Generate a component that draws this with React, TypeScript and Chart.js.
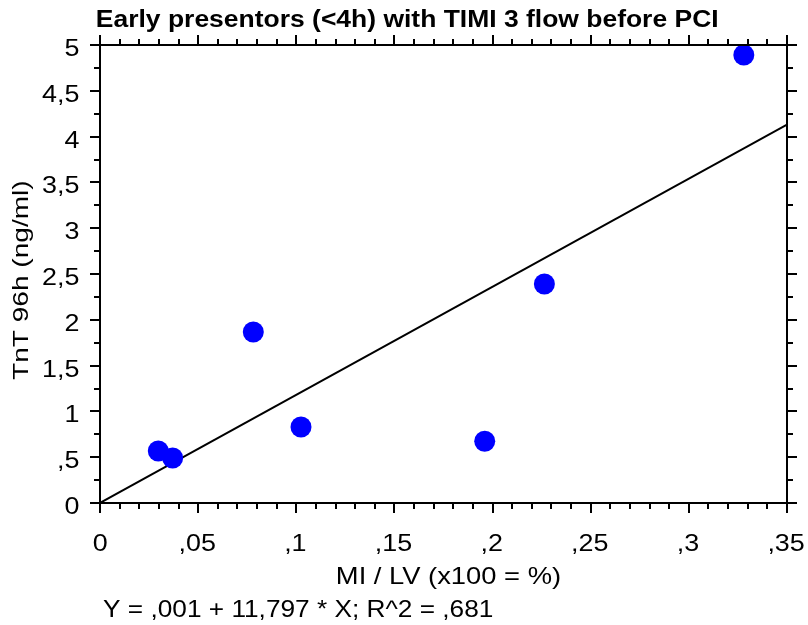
import { useEffect, useRef } from 'react';
import { Chart, registerables } from 'chart.js';

Chart.register(...registerables);

const TITLE = 'Early presentors (<4h) with TIMI 3 flow before PCI';
const X_TITLE = 'MI / LV (x100 = %)';
const Y_TITLE = 'TnT 96h (ng/ml)';
const FOOTER = 'Y = ,001 + 11,797 * X; R^2 = ,681';

// MI / LV (fraction) and TnT 96h (ng/ml)
const miLv = [0.0297, 0.037, 0.0781, 0.1024, 0.196, 0.2264, 0.328];
const tnt = [0.568, 0.491, 1.867, 0.83, 0.674, 2.391, 4.891];

// Linear fit shown below the chart
const fitIntercept = 0.001;
const fitSlope = 11.797;
const fitX = [0, 0.35];

const xTickValues = [0, 0.05, 0.1, 0.15, 0.2, 0.25, 0.3, 0.35];
const xTickLabels = ['0', ',05', ',1', ',15', ',2', ',25', ',3', ',35'];
const xMinorStep = 0.01;
const yTickValues = [0, 0.5, 1, 1.5, 2, 2.5, 3, 3.5, 4, 4.5, 5];
const yTickLabels = ['0', ',5', '1', '1,5', '2', '2,5', '3', '3,5', '4', '4,5', '5'];
const yMinorStep = 0.25;

const FONT = '"Liberation Sans", Arial, sans-serif';
const TICK_STRETCH = 1.12;

function drawText(
  ctx: CanvasRenderingContext2D,
  text: string,
  x: number,
  y: number,
  font: string,
  align: 'left' | 'center' | 'right',
  opts: { stretch?: number; width?: number } = {}
) {
  ctx.save();
  ctx.font = font;
  ctx.textBaseline = 'alphabetic';
  ctx.textAlign = 'left';
  const m = ctx.measureText(text);
  const inkW = m.actualBoundingBoxLeft + m.actualBoundingBoxRight;
  const k = opts.width ? opts.width / inkW : opts.stretch || 1;
  const w = inkW * k;
  let x0 = x;
  if (align === 'center') x0 = x - w / 2;
  else if (align === 'right') x0 = x - w;
  ctx.translate(x0, y);
  ctx.scale(k, 1);
  ctx.fillText(text, m.actualBoundingBoxLeft, 0);
  ctx.restore();
}

const framePlugin = {
  id: 'framePlugin',
  afterDraw(chart: any) {
    const ctx: CanvasRenderingContext2D = chart.ctx;
    const { left, right, top, bottom } = chart.chartArea;
    const xs = chart.scales.x;
    const ys = chart.scales.y;
    ctx.save();
    ctx.strokeStyle = '#000';
    ctx.lineWidth = 2;
    ctx.lineCap = 'butt';
    ctx.beginPath();
    ctx.rect(left, top, right - left, bottom - top);
    ctx.stroke();

    const MAJ = 10;
    const MIN = 6;
    const isMajor = (v: number, arr: number[]) => arr.some((a) => Math.abs(a - v) < 1e-9);
    ctx.beginPath();
    const nx = Math.round((xs.max - xs.min) / xMinorStep);
    for (let i = 0; i <= nx; i++) {
      const v = +(xs.min + i * xMinorStep).toFixed(6);
      const px = Math.round(xs.getPixelForValue(v));
      const len = isMajor(v, xTickValues) ? MAJ : MIN;
      ctx.moveTo(px, bottom);
      ctx.lineTo(px, bottom + len);
      ctx.moveTo(px, top);
      ctx.lineTo(px, top - len);
    }
    const ny = Math.round((ys.max - ys.min) / yMinorStep);
    for (let i = 0; i <= ny; i++) {
      const v = +(ys.min + i * yMinorStep).toFixed(6);
      const py = Math.round(ys.getPixelForValue(v));
      const len = isMajor(v, yTickValues) ? MAJ : MIN;
      ctx.moveTo(left, py);
      ctx.lineTo(left - len, py);
      ctx.moveTo(right, py);
      ctx.lineTo(right + len, py);
    }
    ctx.stroke();

    ctx.fillStyle = '#000';
    const tickFont = `24px ${FONT}`;
    xTickValues.forEach((v, i) => {
      drawText(ctx, xTickLabels[i], xs.getPixelForValue(v), 551, tickFont, 'center', { stretch: TICK_STRETCH });
    });
    yTickValues.forEach((v, i) => {
      drawText(ctx, yTickLabels[i], 79, ys.getPixelForValue(v) + 11, tickFont, 'right', { stretch: TICK_STRETCH });
    });

    drawText(ctx, TITLE, 97, 27, `bold 23px ${FONT}`, 'left', { width: 620 });
    drawText(ctx, X_TITLE, 448.5, 584, `24px ${FONT}`, 'center', { width: 223 });
    drawText(ctx, FOOTER, 103, 617, `24px ${FONT}`, 'left', { width: 390 });

    ctx.save();
    ctx.translate(28, 281);
    ctx.rotate(-Math.PI / 2);
    drawText(ctx, Y_TITLE, 0, 0, `22px ${FONT}`, 'center', { width: 198 });
    ctx.restore();
    ctx.restore();
  },
};

export default function App() {
  const ref = useRef<HTMLCanvasElement>(null);
  useEffect(() => {
    document.body.style.margin = '0';
    const canvas = ref.current;
    if (!canvas) return;
    const points = miLv.map((x, i) => ({ x, y: tnt[i] }));
    const fit = fitX.map((x) => ({ x, y: fitIntercept + fitSlope * x }));
    const chart = new Chart(canvas, {
      type: 'scatter',
      data: {
        datasets: [
          {
            label: 'TnT',
            data: points,
            backgroundColor: '#0000ff',
            borderColor: '#0000ff',
            borderWidth: 0,
            pointRadius: 10.5,
            pointHoverRadius: 10.5,
          },
          {
            type: 'line',
            label: 'fit',
            data: fit,
            borderColor: '#000',
            borderWidth: 2,
            pointRadius: 0,
            fill: false,
          } as any,
        ],
      },
      options: {
        responsive: false,
        animation: false,
        devicePixelRatio: 1,
        events: [],
        layout: { padding: { left: 0, right: 21, top: 45, bottom: 0 } },
        plugins: {
          legend: { display: false },
          title: { display: false },
          tooltip: { enabled: false },
        },
        scales: {
          x: {
            type: 'linear',
            min: 0,
            max: 0.35,
            afterBuildTicks: (s: any) => {
              s.ticks = xTickValues.map((value) => ({ value }));
            },
            afterFit: (s: any) => {
              s.height = 122;
              s.paddingLeft = 0;
              s.paddingRight = 0;
            },
            ticks: { display: false },
            grid: { display: false, drawTicks: false },
            border: { display: false },
          },
          y: {
            type: 'linear',
            min: 0,
            max: 5,
            afterBuildTicks: (s: any) => {
              s.ticks = yTickValues.map((value) => ({ value }));
            },
            afterFit: (s: any) => {
              s.width = 100;
              s.paddingTop = 0;
              s.paddingBottom = 0;
            },
            ticks: { display: false },
            grid: { display: false, drawTicks: false },
            border: { display: false },
          },
        },
      },
      plugins: [framePlugin],
    });
    return () => chart.destroy();
  }, []);
  return (
    <div style={{ position: 'fixed', left: 0, top: 0, width: 808, height: 625, background: '#fff' }}>
      <canvas ref={ref} width={808} height={625} style={{ width: 808, height: 625, display: 'block' }} />
    </div>
  );
}
